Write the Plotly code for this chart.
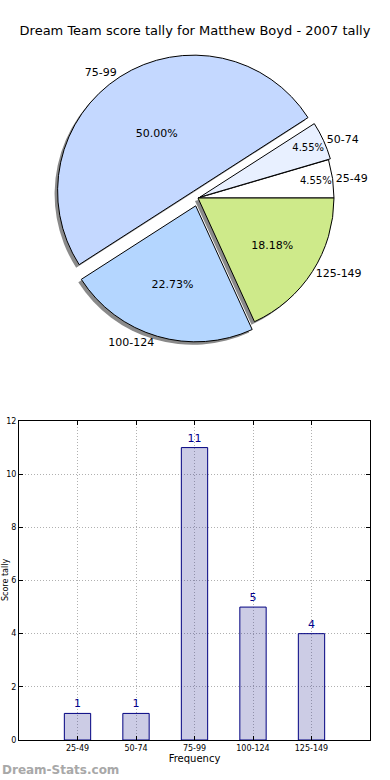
import plotly.graph_objects as go

categories = ["25-49", "50-74", "75-99", "100-124", "125-149"]
counts = [1, 1, 11, 5, 4]
pie_colors = ["#ffffff", "#e8f0ff", "#c4d8ff", "#b4d6ff", "#ceea8a"]
pulls = [0.0, 0.015, 0.06, 0.06, 0.0]
title_text = "Dream Team score tally for Matthew Boyd - 2007 tally"
y_ticks = [0, 2, 4, 6, 8, 10, 12]

W, H = 390, 780
FONT = "DejaVu Sans"


def fx(px):
    return px / W


def fy(py):
    return 1 - py / H


# first slice starts at 3 o'clock going counter-clockwise
start_rot = 90 - 360 * counts[0] / sum(counts)

# pie geometry
cx, cy, r = 198, 198, 136
half = r * (1 + max(pulls))
dom_x = [fx(cx - half), fx(cx + half)]
dom_y = [fy(cy + half), fy(cy - half)]
sx, sy = -3 / W, -3 / H

fig = go.Figure()

# shadow
fig.add_trace(go.Pie(
    labels=categories, values=counts, sort=False, direction="counterclockwise",
    rotation=start_rot, pull=pulls,
    domain=dict(x=[dom_x[0] + sx, dom_x[1] + sx], y=[dom_y[0] + sy, dom_y[1] + sy]),
    marker=dict(colors=["#8a8a8a"] * 5, line=dict(width=0)),
    textinfo="none", hoverinfo="skip", showlegend=False))

# main pie
fig.add_trace(go.Pie(
    labels=categories, values=counts, sort=False, direction="counterclockwise",
    rotation=start_rot, pull=pulls, domain=dict(x=dom_x, y=dom_y),
    marker=dict(colors=pie_colors, line=dict(color="#000000", width=1)),
    texttemplate="%{percent:.2%}", textposition="inside", insidetextorientation="horizontal",
    textfont=dict(family=FONT, size=11, color="#000000"), showlegend=False))

# outer labels
fig.add_trace(go.Pie(
    labels=categories, values=counts, sort=False, direction="counterclockwise",
    rotation=start_rot, pull=pulls, domain=dict(x=dom_x, y=dom_y),
    marker=dict(colors=["rgba(0,0,0,0)"] * 5, line=dict(width=0)),
    texttemplate="%{label}", textposition="outside",
    outsidetextfont=dict(family=FONT, size=11, color="#000000"),
    hoverinfo="skip", showlegend=False))

# bars
fig.add_trace(go.Bar(
    x=categories, y=counts, width=0.45,
    marker=dict(color="rgba(51,51,153,0.25)", line=dict(color="#000080", width=1)),
    text=[str(c) for c in counts], textposition="outside", cliponaxis=False,
    textfont=dict(family=FONT, size=11, color="#00008b"),
    xaxis="x", yaxis="y", showlegend=False))

axis_common = dict(
    showline=True, mirror="ticks", linecolor="#000000", linewidth=1,
    ticks="inside", ticklen=4, tickcolor="#000000", automargin=False,
    showgrid=True, gridcolor="#b0b0b0", griddash="1px,2px", gridwidth=1,
    tickfont=dict(family=FONT, size=8, color="#000000"), zeroline=False)

fig.update_layout(
    width=W, height=H, margin=dict(l=0, r=0, t=0, b=0, autoexpand=False),
    paper_bgcolor="white", plot_bgcolor="rgba(0,0,0,0)",
    font=dict(family=FONT, color="#000000"),
    title=dict(text=title_text, x=0.5, xref="container", xanchor="center",
               y=fy(30), yanchor="middle",
               font=dict(family=FONT, size=13, color="#000000")),
    xaxis=dict(domain=[fx(19), fx(370)], anchor="y", range=[-1, 5], type="category",
               title=dict(text="Frequency", font=dict(family=FONT, size=10, color="#000000"), standoff=2),
               **axis_common),
    yaxis=dict(domain=[fy(740), fy(421)], anchor="x", range=[0, 12], tickvals=y_ticks,
               **axis_common),
    annotations=[
        dict(text="Score tally", xref="paper", yref="paper", x=fx(5), y=fy(580),
             textangle=-90, showarrow=False, font=dict(family=FONT, size=8, color="#000000"),
             xanchor="center", yanchor="middle"),
        dict(text="<b>Dream-Stats.com</b>", xref="paper", yref="paper", x=0, y=fy(770),
             xanchor="left", yanchor="middle", showarrow=False,
             font=dict(family=FONT, size=12, color="#a8a8a8")),
    ],
)

fig.write_html("out.html", config={"displayModeBar": False},
               post_script="document.body.style.margin='0px';")
